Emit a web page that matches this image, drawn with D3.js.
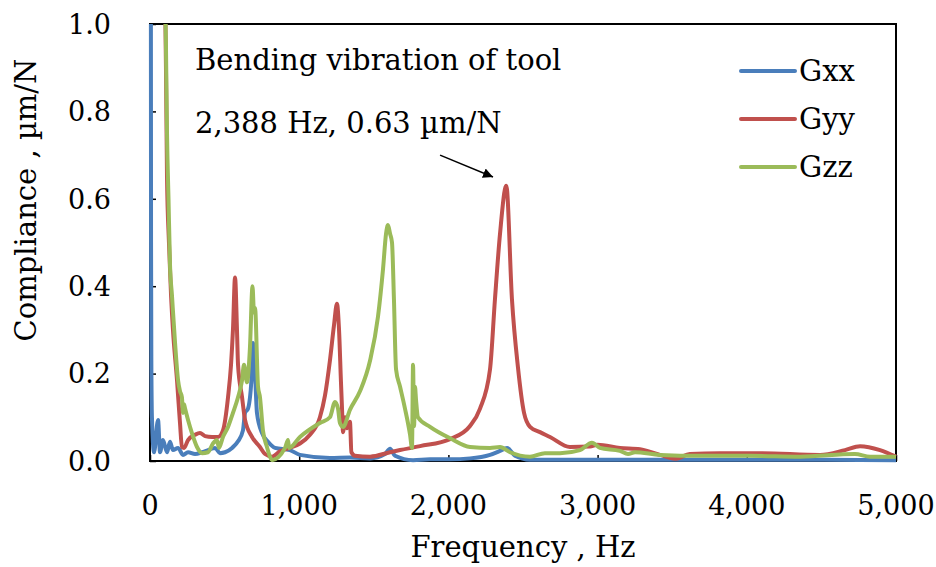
<!DOCTYPE html>
<html>
<head>
<meta charset="utf-8">
<script src="https://cdn.jsdelivr.net/npm/d3@7"></script>
<style>
  body { margin: 0; background: #fff; }
  svg { display: block; font-family: "DejaVu Serif", serif; }
</style>
</head>
<body>
<svg id="chart" width="936" height="567"></svg>
<script>
// Compliance spectra, [Hz, um/N]
const gxx = [[5,1.5],[7,0.5],[9,0.23],[13,0.1],[27,0.02],[54,0.094],[67,0.02],[87,0.048],[114,0.02],[134,0.044],
  [154,0.025],[188,0.03],[221,0.014],[255,0.02],[302,0.016],[349,0.02],[389,0.025],[436,0.03],[469,0.018],[503,0.02],
  [550,0.03],[590,0.045],[623,0.07],[637,0.11],[657,0.12],[684,0.21],[690,0.27],[704,0.2],[717,0.11],[751,0.064],
  [791,0.044],[838,0.03],[938,0.025],[1005,0.014],[1206,0.007],[1340,0.008],[1475,0.006],[1575,0.016],[1609,0.028],[1642,0.012],
  [1763,0.002],[1877,0.004],[2011,0.004],[2145,0.006],[2279,0.014],[2346,0.023],[2393,0.03],[2446,0.012],[2547,0.003],[3016,0.003],
  [3686,0.003],[4357,0.003],[5000,0.002]];

const gyy = [[100,1.1],[107,0.9],[114,0.65],[127,0.5],[141,0.38],[154,0.3],[181,0.185],[201,0.087],[214,0.032],[228,0.03],
  [255,0.048],[302,0.06],[335,0.064],[369,0.057],[416,0.055],[456,0.055],[489,0.07],[523,0.146],[543,0.22],[556,0.3],
  [570,0.42],[583,0.3],[590,0.22],[617,0.146],[637,0.094],[684,0.055],[737,0.032],[771,0.016],[818,0.01],[871,0.022],
  [938,0.03],[1005,0.04],[1072,0.06],[1139,0.1],[1173,0.15],[1206,0.23],[1233,0.31],[1253,0.36],[1267,0.3],[1280,0.18],
  [1287,0.12],[1294,0.066],[1307,0.1],[1320,0.075],[1340,0.09],[1350,0.02],[1374,0.012],[1475,0.01],[1609,0.02],[1676,0.025],
  [1810,0.034],[2011,0.05],[2145,0.08],[2212,0.12],[2279,0.21],[2312,0.37],[2346,0.52],[2388,0.63],[2426,0.37],[2466,0.215],
  [2507,0.11],[2547,0.078],[2614,0.066],[2681,0.055],[2815,0.032],[2949,0.033],[3000,0.037],[3150,0.03],[3284,0.027],[3418,0.014],
  [3519,0.005],[3619,0.016],[3820,0.018],[4088,0.018],[4491,0.014],[4658,0.025],[4759,0.034],[4893,0.025],[5000,0.01]];

const gzz = [[97,1.1],[107,0.95],[114,0.75],[124,0.6],[134,0.45],[147,0.38],[168,0.27],[188,0.185],[201,0.16],[214,0.146],
  [221,0.11],[228,0.13],[235,0.12],[255,0.094],[281,0.064],[315,0.032],[349,0.018],[389,0.02],[422,0.04],[449,0.048],
  [462,0.03],[489,0.055],[523,0.078],[556,0.11],[590,0.146],[617,0.185],[630,0.22],[650,0.18],[670,0.26],[687,0.4],
  [697,0.34],[704,0.35],[724,0.17],[737,0.146],[757,0.07],[784,0.032],[804,0.01],[818,0.002],[905,0.03],[925,0.048],
  [932,0.03],[1005,0.055],[1139,0.087],[1206,0.1],[1240,0.135],[1260,0.12],[1273,0.087],[1294,0.078],[1340,0.117],[1408,0.16],
  [1475,0.23],[1528,0.33],[1562,0.44],[1582,0.52],[1595,0.54],[1609,0.52],[1622,0.5],[1635,0.37],[1649,0.21],[1676,0.17],
  [1709,0.12],[1743,0.06],[1756,0.03],[1763,0.22],[1770,0.08],[1776,0.17],[1783,0.14],[1796,0.1],[1877,0.078],[2011,0.052],
  [2145,0.032],[2279,0.03],[2346,0.032],[2413,0.02],[2547,0.01],[2647,0.018],[2748,0.018],[2882,0.025],[2962,0.042],[3016,0.03],
  [3150,0.023],[3204,0.016],[3251,0.02],[3418,0.014],[3686,0.012],[4021,0.012],[4357,0.01],[4725,0.016],[4826,0.01],[5000,0.01]];

const seriesNames = ["Gxx", "Gyy", "Gzz"];
const seriesColors = ["#4a7ebb", "#c0504d", "#9bbb59"];
const xTicks = [0, 1000, 2000, 3000, 4000, 5000];
const yTicks = [0, 0.2, 0.4, 0.6, 0.8, 1.0];

// annotation text + arrow (arrow in data units: tail -> head)
const noteLines = ["Bending vibration of tool", "2,388 Hz, 0.63 \u00b5m/N"];
const arrowFrom = [1944, 0.70];
const arrowTo = [2299, 0.65];

const svg = d3.select("#chart");
const m = { left: 150, right: 40, top: 24, bottom: 106 };
const W = +svg.attr("width"), H = +svg.attr("height");

const x = d3.scaleLinear().domain([0, 5000]).range([m.left, W - m.right]);
const y = d3.scaleLinear().domain([0, 1]).range([H - m.bottom, m.top]);

svg.append("defs").append("clipPath").attr("id", "clip")
  .append("rect")
  .attr("x", m.left - 4).attr("y", m.top)
  .attr("width", W - m.right - m.left + 8)
  .attr("height", H - m.bottom - m.top + 4);

svg.append("defs").append("marker")
  .attr("id", "head")
  .attr("viewBox", "0 0 10 10")
  .attr("refX", 10).attr("refY", 5)
  .attr("markerWidth", 10).attr("markerHeight", 10)
  .attr("markerUnits", "userSpaceOnUse")
  .attr("orient", "auto")
  .append("path").attr("d", "M0,0 L10,5 L0,10 Z").attr("fill", "#000");

// frame
svg.append("rect")
  .attr("x", x(0)).attr("y", y(1))
  .attr("width", x(5000) - x(0)).attr("height", y(0) - y(1))
  .attr("fill", "none").attr("stroke", "#000").attr("stroke-width", 2);

// inner ticks
svg.append("g").attr("transform", `translate(0,${y(0)})`)
  .call(d3.axisBottom(x).tickValues(xTicks).tickSize(-6).tickFormat(""))
  .call(g => g.select(".domain").remove())
  .selectAll("line").attr("stroke-width", 1.5);

svg.append("g").attr("transform", `translate(${x(0)},0)`)
  .call(d3.axisLeft(y).tickValues(yTicks).tickSize(-6).tickFormat(""))
  .call(g => g.select(".domain").remove())
  .selectAll("line").attr("stroke-width", 1.5);

// tick labels
svg.append("g").selectAll("text")
  .data(xTicks).enter().append("text")
  .attr("x", d => x(d)).attr("y", 515)
  .attr("text-anchor", "middle")
  .attr("font-size", 27)
  .text(d => d3.format(",")(d));

svg.append("g").selectAll("text")
  .data(yTicks).enter().append("text")
  .attr("x", 111).attr("y", d => y(d))
  .attr("dy", "0.36em")
  .attr("text-anchor", "end")
  .attr("font-size", 27)
  .text(d => d3.format(".1f")(d));

// axis titles
svg.append("text")
  .attr("x", (x(0) + x(5000)) / 2).attr("y", 557)
  .attr("text-anchor", "middle").attr("font-size", 29)
  .text("Frequency , Hz");

svg.append("text")
  .attr("transform", "translate(26,200) rotate(-90)")
  .attr("text-anchor", "middle").attr("dy", "0.36em").attr("font-size", 29)
  .text("Compliance , \u00b5m/N");

// curves
const line = d3.line()
  .x(d => x(d[0]))
  .y(d => y(d[1]))
  .curve(d3.curveMonotoneX);

const plot = svg.append("g").attr("clip-path", "url(#clip)");
[gxx, gyy, gzz].forEach((s, i) => {
  plot.append("path")
    .datum(s)
    .attr("fill", "none")
    .attr("stroke", seriesColors[i])
    .attr("stroke-width", 4)
    .attr("stroke-linejoin", "round")
    .attr("d", line);
});

// legend
const leg = svg.append("g").attr("transform", "translate(741,71)");
seriesNames.forEach((name, i) => {
  const row = leg.append("g").attr("transform", `translate(0,${i * 48})`);
  row.append("line").attr("x1", 0).attr("x2", 54)
    .attr("stroke", seriesColors[i]).attr("stroke-width", 4).attr("stroke-linecap", "round");
  row.append("text").attr("x", 58).attr("dy", "0.36em").attr("font-size", 29).text(name);
});

// annotation
svg.append("g").selectAll("text")
  .data(noteLines).enter().append("text")
  .attr("x", 195).attr("y", (d, i) => 70 + i * 63)
  .attr("font-size", 29)
  .text(d => d);

svg.append("line")
  .attr("x1", x(arrowFrom[0])).attr("y1", y(arrowFrom[1]))
  .attr("x2", x(arrowTo[0])).attr("y2", y(arrowTo[1]))
  .attr("stroke", "#000").attr("stroke-width", 1.5)
  .attr("marker-end", "url(#head)");
</script>
</body>
</html>
